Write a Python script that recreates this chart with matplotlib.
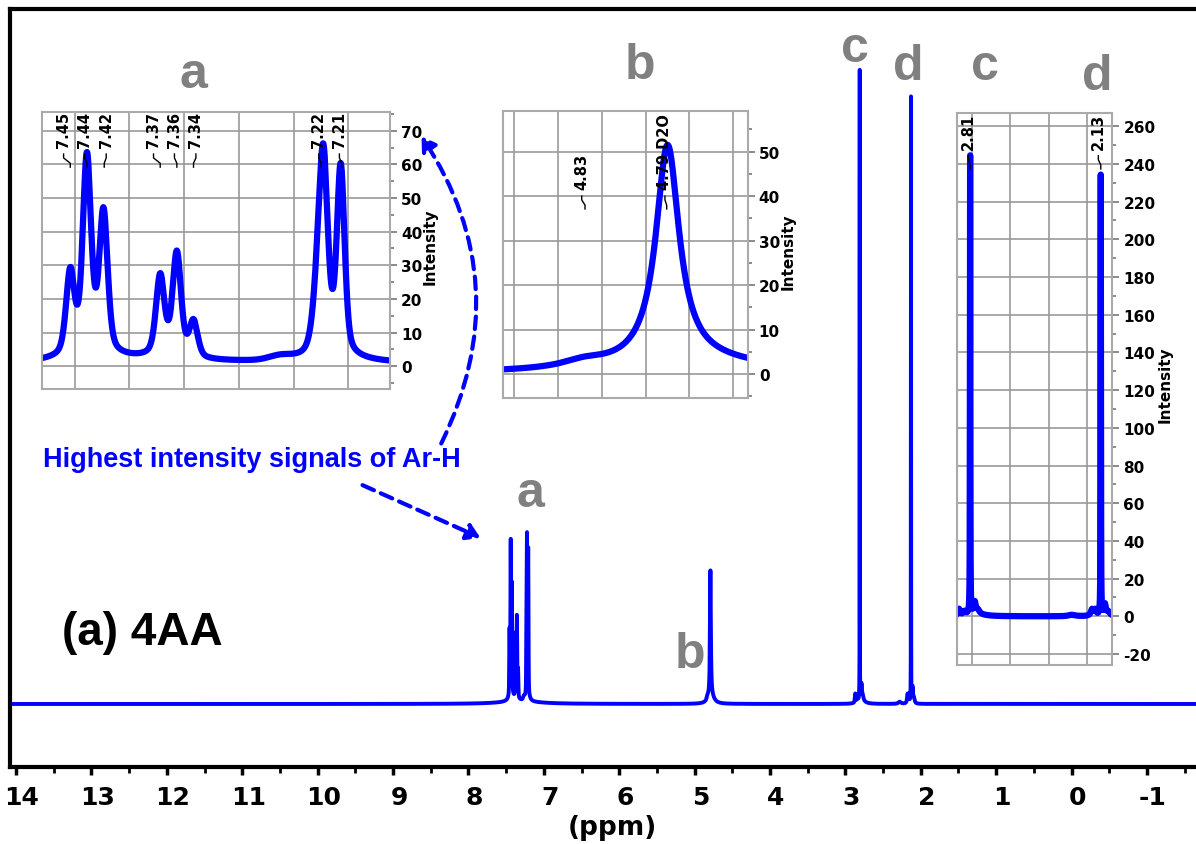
import numpy as np
import matplotlib.pyplot as plt
import matplotlib.transforms as mtransforms
from matplotlib.patches import FancyArrowPatch
from matplotlib.ticker import MultipleLocator

plt.rcParams['axes.unicode_minus'] = False

### Peak list (ppm, height, half width, lorentzian fraction)
# aromatic region (a)
arom_ppm = [7.4539, 7.4387, 7.4236, 7.3718, 7.3566, 7.3414, 7.2290, 7.2228, 7.2070,
            7.435, 7.365, 7.215, 7.262, 7.32]
arom_height = [24, 57, 41, 23, 30, 10.5, 12, 57, 55,
               3.5, 2.0, 2.5, 1.2, 1.0]
arom_hwhm = [0.0045, 0.0045, 0.0045, 0.0045, 0.0045, 0.0045, 0.005, 0.0048, 0.0042,
             0.025, 0.02, 0.025, 0.012, 0.3]
arom_eta = [0.4, 0.4, 0.4, 0.4, 0.4, 0.4, 0.4, 0.4, 0.4,
            1, 1, 1, 0, 1]
# D2O signal (b)
b_ppm = [4.790, 4.776, 4.828]
b_height = [49, 2.6, 1.4]
b_hwhm = [0.0065, 0.045, 0.012]
b_eta = [1, 1, 1]
# CH3 signals (c, d) with small side bands
cd_ppm = [2.810, 2.786, 2.770, 2.840, 2.868, 2.780,
          2.130, 2.175, 2.158, 2.108, 2.090, 2.280]
cd_height = [243, 6, 2, 2, 3.5, 1.2,
             233.5, 3.5, 3, 6, 2, 0.8]
cd_hwhm = [0.0012, 0.006, 0.01, 0.008, 0.006, 0.05,
           0.0012, 0.008, 0.006, 0.006, 0.01, 0.02]
cd_eta = [0.6, 1, 1, 1, 1, 1,
          0.6, 1, 1, 1, 1, 1]

peak_ppm = np.array(arom_ppm + b_ppm + cd_ppm)
peak_height = np.array(arom_height + b_height + cd_height)
peak_hwhm = np.array(arom_hwhm + b_hwhm + cd_hwhm)
peak_eta = np.array(arom_eta + b_eta + cd_eta)

main_ticks = list(range(14, -2, -1))


def spectre(x):
    """Sum of pseudo-Voigt lines of the peak list"""
    y = np.zeros_like(x)
    for p, h, w, eta in zip(peak_ppm, peak_height, peak_hwhm, peak_eta):
        u = ((x - p) / w) ** 2
        y += h * (eta / (1 + u) + (1 - eta) * np.exp(-np.log(2) * u))
    return y


BLUE = '#0000ff'
GREY = '#808080'
W, H = 1196, 845


def fx(px):
    return px / W


def fy(py):
    return 1 - py / H


fig = plt.figure(figsize=(W / 100, H / 100), dpi=100)

### Main spectrum
ax = fig.add_axes([fx(10), fy(768), 1 - fx(10), (768 - 10) / H])
x = np.linspace(-1.8, 14.2, 80001)
ax.plot(x, spectre(x), color=BLUE, lw=2.8)
ax.set_xlim(14.08, -1.65)
ax.set_ylim(-24.3, 268)
ax.set_yticks([])
ax.spines['right'].set_visible(False)
for s in ['left', 'top', 'bottom']:
    ax.spines[s].set_linewidth(3)
ax.set_xticks(main_ticks)
ax.xaxis.set_minor_locator(MultipleLocator(0.5))
ax.tick_params(axis='x', which='major', length=6, width=2.5, labelsize=18, pad=7)
ax.tick_params(axis='x', which='minor', length=4, width=2)
shift = mtransforms.ScaledTranslation(6 / 100, 0, fig.dpi_scale_trans)
for lab in ax.get_xticklabels():
    lab.set_fontweight('bold')
    lab.set_transform(lab.get_transform() + shift)
ax.set_xlabel('(ppm)', fontsize=19, fontweight='bold', labelpad=3)
ax.xaxis.set_label_coords(0.508, -0.062)


### Insets
def inset(box, xlim, ylim, xgrid, ymaj, ymin, xs_n):
    left, right, top, bottom = box
    axi = fig.add_axes([fx(left), fy(bottom), (right - left) / W, (bottom - top) / H])
    xs = np.linspace(xlim[1], xlim[0], xs_n)
    axi.plot(xs, spectre(xs), color=BLUE, lw=4.5, solid_joinstyle='round')
    axi.set_xlim(*xlim)
    axi.set_ylim(*ylim)
    axi.set_xticks(xgrid)
    axi.set_xticklabels([])
    axi.tick_params(axis='x', length=0)
    axi.yaxis.tick_right()
    axi.set_yticks(ymaj)
    axi.yaxis.set_minor_locator(MultipleLocator(ymin))
    axi.tick_params(axis='y', which='both', direction='out', color='#777777',
                    labelsize=11, pad=3)
    axi.tick_params(axis='y', which='major', length=5, width=1.2)
    axi.tick_params(axis='y', which='minor', length=3, width=1.2)
    for lab in axi.get_yticklabels():
        lab.set_fontweight('bold')
    axi.grid(True, color='#999999', lw=1.2)
    axi.set_axisbelow(True)
    for s in axi.spines.values():
        s.set_color('#aaaaaa')
        s.set_linewidth(1.5)
    return axi


ax_a = inset((41.7, 390, 113, 390), (7.48, 7.162), (-6.8, 75.6),
             [7.45, 7.40, 7.35, 7.30, 7.25, 7.20], range(0, 71, 10), 5, 8000)
ax_b = inset((502.7, 747.7, 111.7, 399), (4.8653, 4.7534), (-5.4, 59.2),
             [4.86, 4.84, 4.82, 4.80, 4.78, 4.76], range(0, 51, 10), 5, 6000)
ax_cd = inset((956.7, 1112.3, 114.3, 666), (2.88, 2.07), (-25.8, 266.8),
              [2.8, 2.6, 2.4, 2.2], range(-20, 261, 20), 10, 30000)

ax_a.text(1.115, 0.516, 'Intensity', transform=ax_a.transAxes, rotation=90,
          ha='center', va='center', fontsize=11, fontweight='bold')
ax_b.text(1.1645, 0.512, 'Intensity', transform=ax_b.transAxes, rotation=90,
          ha='center', va='center', fontsize=11, fontweight='bold')
ax_cd.text(1.339, 0.509, 'Intensity', transform=ax_cd.transAxes, rotation=90,
           ha='center', va='center', fontsize=11, fontweight='bold')


### Peak picking labels
def labels(axi, names, text_x, peak_x, y_text, y_top, y_bot):
    for name, tx, px in zip(names, text_x, peak_x):
        axi.text(tx, y_text, name, rotation=90, ha='center', va='bottom',
                 fontsize=10.5, fontweight='bold', clip_on=False)
        ymid = y_top - 0.3 * (y_top - y_bot)
        axi.plot([tx, tx, px, px], [y_top, ymid, y_bot + 0.3 * (y_top - y_bot), y_bot],
                 color='black', lw=1, clip_on=False)


labels(ax_a, ['7.45', '7.44', '7.42', '7.37', '7.36', '7.34', '7.22', '7.21'],
       [7.4600, 7.4408, 7.4211, 7.3779, 7.3588, 7.3392, 7.2270, 7.2082],
       [7.4539, 7.4387, 7.4229, 7.3718, 7.3566, 7.3414, 7.2249, 7.2060],
       65.2, 63.1, 59.2)
labels(ax_b, ['4.83', '4.79 D2O'], [4.8292, 4.7912], [4.8277, 4.7904],
       41.6, 40.0, 37.1)
labels(ax_cd, ['2.81', '2.13'], [2.8193, 2.1427], [2.8104, 2.1300],
       247.9, 244.3, 237.3)

### Letters
letters = ['a', 'b', 'c', 'd', 'a', 'b', 'c', 'd']
letter_xy = [(193, 88), (640, 79), (985, 80), (1097, 90),
             (530, 507), (690, 668), (855, 62), (908, 80)]
for t, (px, py) in zip(letters, letter_xy):
    fig.text(fx(px), fy(py), t, ha='center', va='baseline', fontsize=36,
             fontweight='bold', color=GREY, family='Liberation Sans')

fig.text(fx(62), fy(645), '(a) 4AA', ha='left', va='baseline', fontsize=33,
         fontweight='bold', family='Liberation Sans')
fig.text(fx(43), fy(467), 'Highest intensity signals of Ar-H', ha='left',
         va='baseline', fontsize=19.5, fontweight='bold', color=BLUE,
         family='Liberation Sans')

### Dashed arrows
arr1 = FancyArrowPatch((fx(360), fy(485)), (fx(483), fy(540)), transform=fig.transFigure,
                       arrowstyle='-|>,head_length=8,head_width=5', color=BLUE, lw=3,
                       linestyle=(0, (3, 1.8)), mutation_scale=1)
arr2 = FancyArrowPatch((fx(440), fy(447)), (fx(420), fy(135)), transform=fig.transFigure,
                       connectionstyle='arc3,rad=0.29',
                       arrowstyle='-|>,head_length=8,head_width=5', color=BLUE, lw=3,
                       linestyle=(0, (3, 1.8)), mutation_scale=1)
fig.patches.extend([arr1, arr2])

plt.savefig('out.png', dpi=100)
